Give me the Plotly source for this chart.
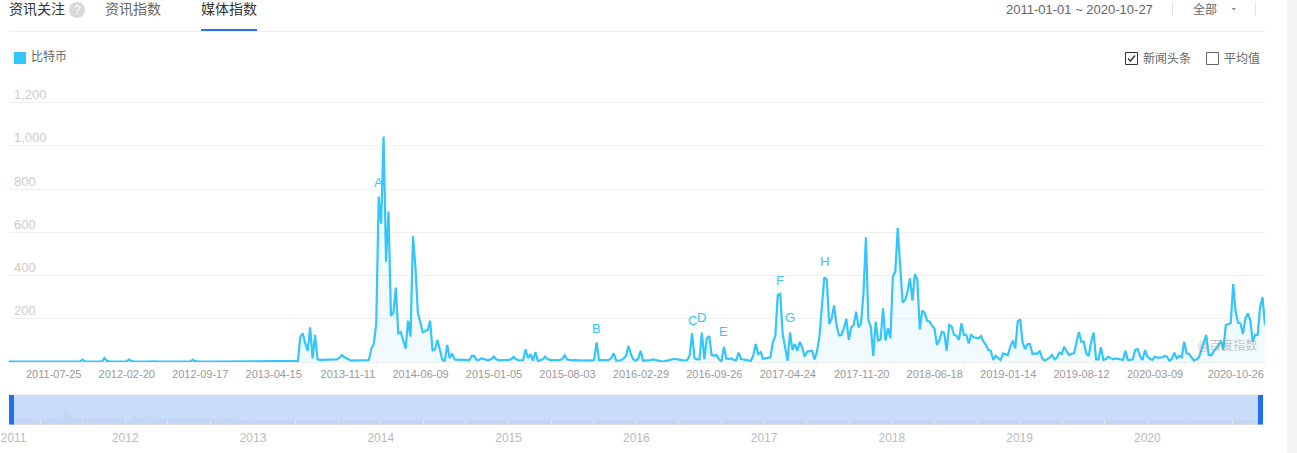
import pandas as pd
import plotly.graph_objects as go

W, H = 1297, 453
FONT = "Liberation Sans, Noto Sans CJK SC, sans-serif"
LINE = "#33c5fb"

series_name = "比特币"
first_week = "2010-12-27"

# weekly media index, ten values per row
weeks_000_099 = [
    2,2,3,2,2,3,2,2,3,2,
    2,3,2,2,3,2,2,2,3,2,
    2,3,2,2,3,2,2,2,3,2,
    11,3,2,2,3,2,2,3,2,18,
    5,3,2,2,3,2,2,3,2,12,
    4,3,2,2,3,2,2,3,2,2,
    3,2,2,3,2,2,3,2,2,2,
    3,2,2,3,2,10,4,3,2,2,
    3,2,2,2,3,2,2,3,2,2,
    3,2,2,3,2,2,3,2,2,3,
]
weeks_100_199 = [
    2,2,3,2,2,3,2,2,3,2,
    2,3,2,2,3,2,2,2,5,117,
    132,86,52,160,17,125,12,10,9,10,
    11,11,10,10,12,20,32,22,15,10,
    6,6,6,7,7,7,8,9,62,83,
    179,765,640,1043,464,696,213,228,344,133,
    139,94,62,191,117,583,440,228,179,137,
    143,148,190,51,59,102,56,9,6,79,
    17,40,12,10,10,11,10,9,8,28,
    28,9,10,17,12,10,9,14,25,12,
]
weeks_200_299 = [
    8,8,7,8,10,12,23,14,9,8,
    9,59,17,37,6,46,4,8,12,25,
    14,9,9,8,9,9,14,31,12,9,
    8,9,8,9,8,7,8,7,6,10,
    91,9,8,8,9,10,18,40,6,7,
    8,16,28,74,37,12,6,14,52,6,
    6,8,9,12,9,8,6,2,4,7,
    8,12,15,12,10,8,7,9,30,133,
    17,12,12,136,12,110,120,32,30,32,
    12,2,71,15,14,17,10,8,43,14,
]
weeks_300_399 = [
    12,9,7,5,30,83,37,46,15,17,
    17,22,92,120,310,315,130,75,5,137,
    56,83,52,93,67,25,48,50,52,12,
    48,117,248,392,380,176,202,262,171,123,
    125,156,200,102,160,171,233,160,179,318,
    577,194,164,28,187,99,105,248,99,156,
    110,395,418,619,441,275,287,326,387,284,
    407,380,151,238,228,190,187,167,156,79,
    100,140,133,52,171,164,125,122,102,179,
    125,125,86,125,114,112,110,120,95,79,
]
weeks_400_513 = [
    56,52,9,28,18,9,40,36,32,74,
    99,63,187,197,90,59,83,83,37,40,
    37,52,17,6,12,20,32,12,20,43,
    37,71,50,32,38,40,90,139,94,94,
    40,28,94,136,12,12,68,9,14,25,
    18,12,17,15,12,9,52,9,10,12,
    56,60,25,9,56,25,15,9,25,20,
    20,22,28,25,5,15,43,17,28,22,
    94,40,37,20,6,12,20,56,90,125,
    32,30,48,60,77,99,56,171,175,179,
    360,233,182,179,130,202,225,194,94,125,
    125,253,299,171,
]
media_index = weeks_000_099 + weeks_100_199 + weeks_200_299 + weeks_300_399 + weeks_400_513
assert len(media_index) == 514

x_tick_labels = ["2011-07-25","2012-02-20","2012-09-17","2013-04-15","2013-11-11","2014-06-09",
                 "2015-01-05","2015-08-03","2016-02-29","2016-09-26","2017-04-24","2017-11-20",
                 "2018-06-18","2019-01-14","2019-08-12","2020-03-09","2020-10-26"]
y_tick_values = [200, 400, 600, 800, 1000, 1200]

news_letters = ["A", "B", "C", "D", "E", "F", "G", "H"]
news_weeks = ["2013-11-18","2015-08-03","2016-05-02","2016-05-30","2016-08-01","2017-01-09","2017-02-06","2017-05-15"]
news_heights = [829, 157, 194, 204, 139, 375, 204, 463]

overview_years = [2011.09,2011.16,2011.26,2011.37,2011.43,2011.46,2011.51,2011.53,2011.54,2011.56,2011.59,
                  2011.65,2011.87,2011.90,2011.96,2012.04,2012.05,2012.07,2012.09,2012.16,2012.20,2012.23,
                  2012.31,2012.43,2012.51,2012.57,2012.67,2012.72,2012.78,2012.90,2020.90]
overview_values = [4,5,5,4,6,4,5,20,8,10,6,5,5,7,5,4,5,10,6,7,10,7,5,5,6,5,6,4,7,4,4]
overview_tick_values = [2011.125,2012,2013,2014,2015,2016,2017,2018,2019,2020]
overview_tick_text = ["2011","2012","2013","2014","2015","2016","2017","2018","2019","2020"]

weeks = pd.date_range(first_week, periods=len(media_index), freq="7D")


def px(x):
    return x / W


def py(y):
    return 1 - y / H


def rect(x0, y0, x1, y1, fill=None, line=None, lw=1, layer="above"):
    return dict(type="rect", xref="paper", yref="paper", x0=px(x0), x1=px(x1), y0=py(y0), y1=py(y1),
                fillcolor=fill or "rgba(0,0,0,0)", line=dict(color=line or "rgba(0,0,0,0)", width=lw if line else 0),
                layer=layer)


def seg(x0, y0, x1, y1, color, lw=1, layer="above"):
    return dict(type="line", xref="paper", yref="paper", x0=px(x0), x1=px(x1), y0=py(y0), y1=py(y1),
                line=dict(color=color, width=lw), layer=layer)


def label(text, x, y, size=12, color="#666666", anchor="left", **kw):
    shift = -2 if anchor == "left" else 0
    return dict(text=text, xref="paper", yref="paper", x=px(x), y=py(y), xanchor=anchor, yanchor="middle",
                xshift=shift, showarrow=False, font=dict(family=FONT, size=size, color=color), **kw)


fig = go.Figure()
fig.add_trace(go.Scatter(
    x=weeks, y=media_index, name=series_name, mode="lines",
    line=dict(color=LINE, width=2.2), fill="tozeroy", fillcolor="rgba(51,197,251,0.07)",
    xaxis="x", yaxis="y", showlegend=False,
))
fig.add_trace(go.Scatter(
    x=overview_years, y=overview_values, mode="lines", line=dict(width=0),
    fill="tozeroy", fillcolor="rgba(110,140,210,0.07)", xaxis="x2", yaxis="y2",
    showlegend=False, hoverinfo="skip",
))

shapes = [
    seg(9, 31.5, 1265, 31.5, "#eeeeee"),
    rect(201, 29, 257, 31, fill="#2a74f2"),
    dict(type="circle", xref="paper", yref="paper", x0=px(69), x1=px(85), y0=py(2), y1=py(18),
         fillcolor="#d9d9d9", line=dict(width=0)),
    seg(1172.5, 2, 1172.5, 15, "#e4e4e4"),
    seg(1255.5, 2, 1255.5, 15, "#d3ecd3"),
    dict(type="path", xref="paper", yref="paper",
         path=f"M {px(1231.5)} {py(8)} L {px(1236)} {py(8)} L {px(1233.75)} {py(10.5)} Z",
         fillcolor="#8c8c8c", line=dict(width=0)),
    rect(14, 52, 26, 64, fill="#33c5fb"),
    rect(1125.5, 52.5, 1137.5, 64.5, line="#333333"),
    dict(type="path", xref="paper", yref="paper",
         path=f"M {px(1128)} {py(58.5)} L {px(1130.5)} {py(61)} L {px(1135)} {py(55.5)}",
         line=dict(color="#333333", width=1.5)),
    rect(1206.5, 52.5, 1218.5, 64.5, line="#666666"),
    rect(9, 395, 1263, 424, fill="#c9ddfb", layer="below"),
    seg(9, 395, 1263, 395, "#dddddd"),
    seg(9, 424.5, 1263, 424.5, "#dddddd"),
    rect(9, 395, 14, 424.5, fill="#1f6ff2"),
    rect(1258, 395, 1263, 424.5, fill="#1f6ff2"),
    rect(1287, 0, 1297, 453, fill="#f5f5f5"),
]

annotations = [
    label("资讯关注", 9, 9.5, size=14, color="#333333"),
    label("?", 77, 10, size=12, color="#ffffff", anchor="center"),
    label("资讯指数", 105, 9.5, size=14, color="#666666"),
    label("媒体指数", 201, 9.5, size=14, color="#333333"),
    label("2011-01-01 ~ 2020-10-27", 1006, 9.5, size=13, color="#666666"),
    label("全部", 1193, 9.5, size=12, color="#666666"),
    label(series_name, 31, 57, size=12, color="#666666"),
    label("新闻头条", 1143, 58.5, size=12, color="#666666"),
    label("平均值", 1224, 58.5, size=12, color="#666666"),
    label("@百度指数", 1197, 345, size=12, color="rgba(140,140,140,0.5)"),
]
for letter, when, height in zip(news_letters, news_weeks, news_heights):
    annotations.append(dict(text=letter, x=when, y=height, xref="x", yref="y", showarrow=False,
                            xanchor="center", yanchor="middle",
                            font=dict(family=FONT, size=13, color=LINE)))

fig.update_layout(
    width=W, height=H, autosize=False, margin=dict(l=0, r=0, t=0, b=0),
    paper_bgcolor="#ffffff", plot_bgcolor="#ffffff", showlegend=False,
    font=dict(family=FONT), shapes=shapes, annotations=annotations,
    xaxis=dict(
        domain=[px(9), px(1265)], type="date", range=[weeks[0], weeks[-1]], anchor="y",
        tickmode="array", tickvals=x_tick_labels, ticktext=x_tick_labels,
        ticklabelposition="outside left", ticks="outside", ticklen=4, tickcolor="#eeeeee",
        ticklabelstandoff=2,
        tickfont=dict(family=FONT, size=11, color="#999999"),
        showgrid=False, showline=True, linecolor="#eeeeee", zeroline=False, automargin=False,
    ),
    yaxis=dict(
        domain=[py(362), py(362 - 259.5 * 1320 / 1200)], range=[0, 1320], anchor="x",
        tickmode="array", tickvals=y_tick_values, tickformat=",d",
        ticklabelposition="inside", ticklabelshift=-8, ticklabelstandoff=2,
        tickfont=dict(family=FONT, size=13, color="#cccccc"),
        gridcolor="#f0f0f0", gridwidth=1, zeroline=False, showline=False, automargin=False,
    ),
    xaxis2=dict(
        domain=[px(9), px(1263)], range=[2011.09, 2020.905], anchor="y2",
        tickmode="array", tickvals=overview_tick_values, ticktext=overview_tick_text,
        ticks="inside", ticklen=4, tickcolor="#e2e2e2", ticklabelstandoff=5,
        ticklabeloverflow="allow",
        minor=dict(dtick=1 / 3, tick0=2012, ticks="inside", ticklen=4, tickcolor="#e2e2e2", showgrid=False),
        tickfont=dict(family=FONT, size=12, color="#bbbbbb"),
        showgrid=False, zeroline=False, showline=False, automargin=False,
    ),
    yaxis2=dict(domain=[py(424), py(395)], range=[0, 29], anchor="x2", visible=False),
)

fig.write_html(
    "out.html",
    config={"displayModeBar": False},
    post_script="document.body.style.margin='0';document.documentElement.style.overflow='hidden';",
)
